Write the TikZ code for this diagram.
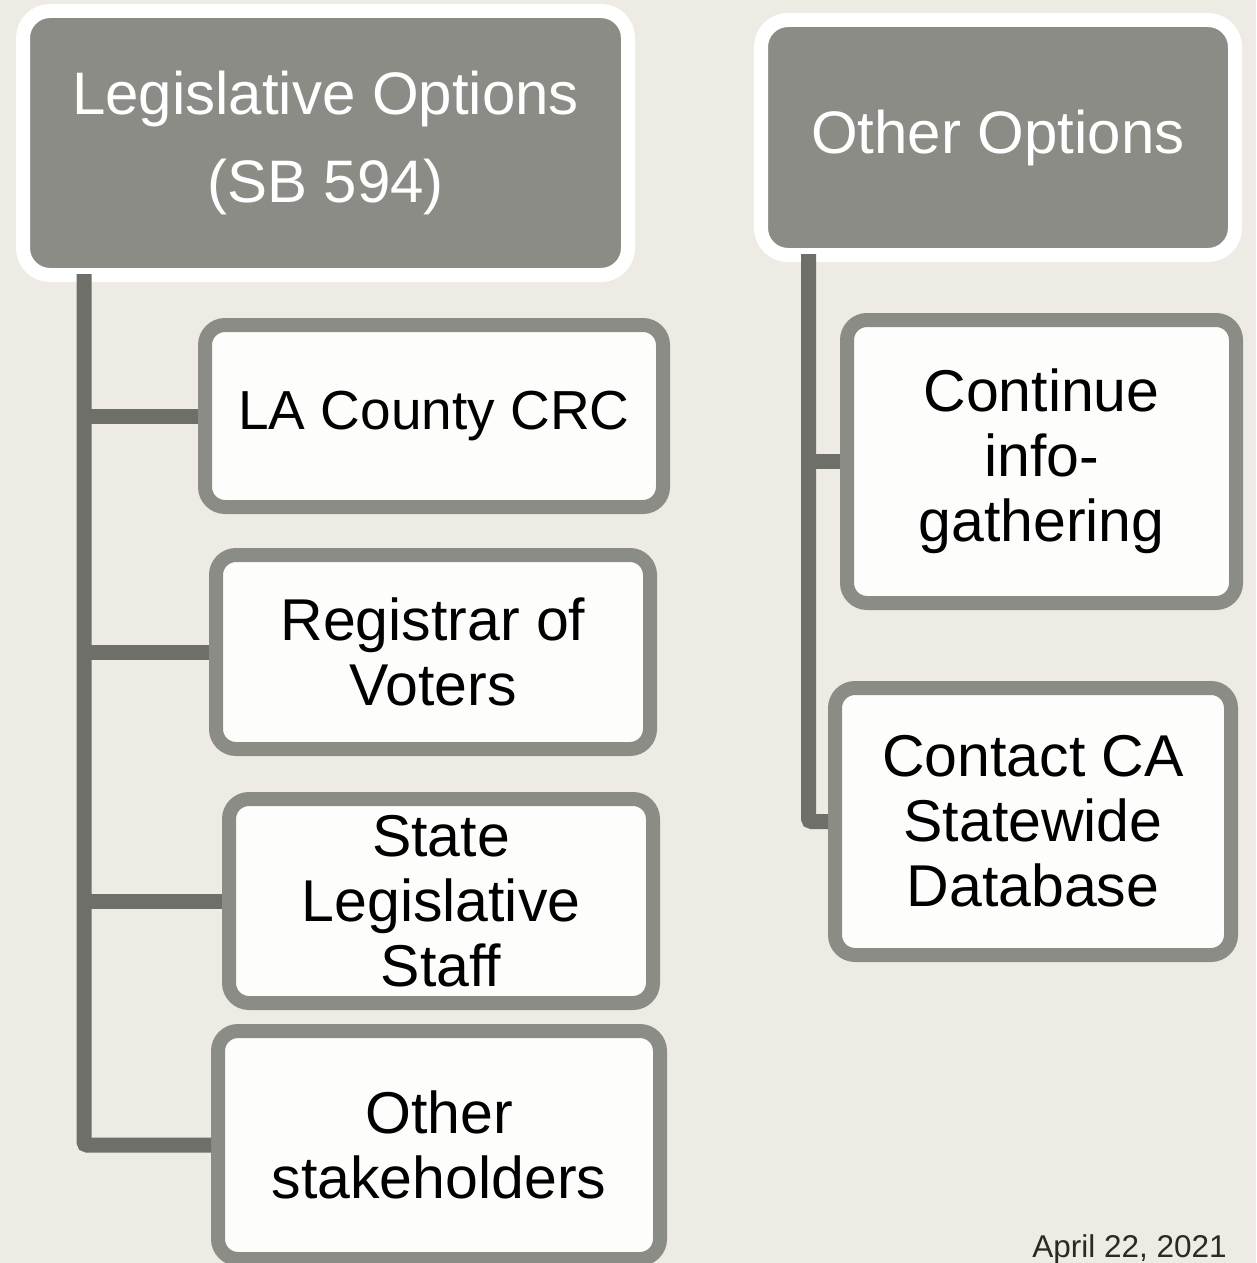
\documentclass[tikz,border=0pt]{standalone}
\usepackage{fontspec}
\setmainfont{Liberation Sans}
\usetikzlibrary{calc}
\definecolor{bg}{HTML}{EEEBE4}
\definecolor{hdrgray}{HTML}{8C8C86}
\definecolor{conncol}{HTML}{6E6F69}
\definecolor{boxfill}{HTML}{FDFDFC}
\definecolor{datecol}{HTML}{2A2A22}
\begin{document}
\begin{tikzpicture}[x=1pt,y=-1pt,
  header/.style={rectangle, rounded corners=27pt, fill=hdrgray, draw=white, line width=14pt,
    text=white, align=center, inner sep=0pt, font=\fontsize{60}{88}\selectfont},
  childbox/.style={rectangle, rounded corners=20pt, fill=boxfill, draw=hdrgray, line width=14pt,
    text=black, align=center, inner sep=0pt, font=\fontsize{59}{65}\selectfont},
  connector/.style={draw=conncol, line width=15pt, rounded corners=3pt},
  datelabel/.style={anchor=base east, text=datecol, inner sep=0pt, font=\fontsize{31.5}{36}\selectfont}
]
\fill[bg] (0,0) rectangle (1256,1263);
\useasboundingbox (0,0) rectangle (1256,1263);

% headers
\node[header, minimum width=605pt, minimum height=264pt] (hl) at (325.5,143) {\raisebox{-3pt}{Legislative Options}\\\raisebox{-3pt}{(SB 594)}};
\node[header, minimum width=474pt, minimum height=235pt] (hr) at (998,137.5) {\raisebox{-3pt}{Other Options}};

% left children
\node[childbox, minimum width=458pt, minimum height=182pt, font=\fontsize{55}{65}\selectfont] (la) at (434,416) {LA County CRC};
\node[childbox, minimum width=434pt, minimum height=194pt] (rv) at (433,652) {Registrar of\\Voters};
\node[childbox, minimum width=424pt, minimum height=204pt] (sl) at (441,901) {State\\Legislative\\Staff};
\node[childbox, minimum width=442pt, minimum height=228pt] (os) at (439,1145) {Other\\stakeholders};

% right children
\node[childbox, minimum width=389pt, minimum height=283pt] (ci) at (1041.5,461.5) {Continue\\info-\\gathering};
\node[childbox, minimum width=396pt, minimum height=267pt] (cd) at (1033,821.5) {Contact CA\\Statewide\\Database};

% connectors
\coordinate (lt) at ([shift={(68,-8)}]hl.south west);
\coordinate (rt) at ([shift={(54.5,-8)}]hr.south west);
\draw[connector] (lt) |- (os.west);
\draw[connector] (lt |- la.west) -- (la.west);
\draw[connector] (lt |- rv.west) -- (rv.west);
\draw[connector] (lt |- sl.west) -- (sl.west);
\draw[connector] (rt) |- (cd.west);
\draw[connector] (rt |- ci.west) -- (ci.west);

% date
\node[datelabel] (date) at (1227,1257) {April 22, 2021};
\end{tikzpicture}
\end{document}
